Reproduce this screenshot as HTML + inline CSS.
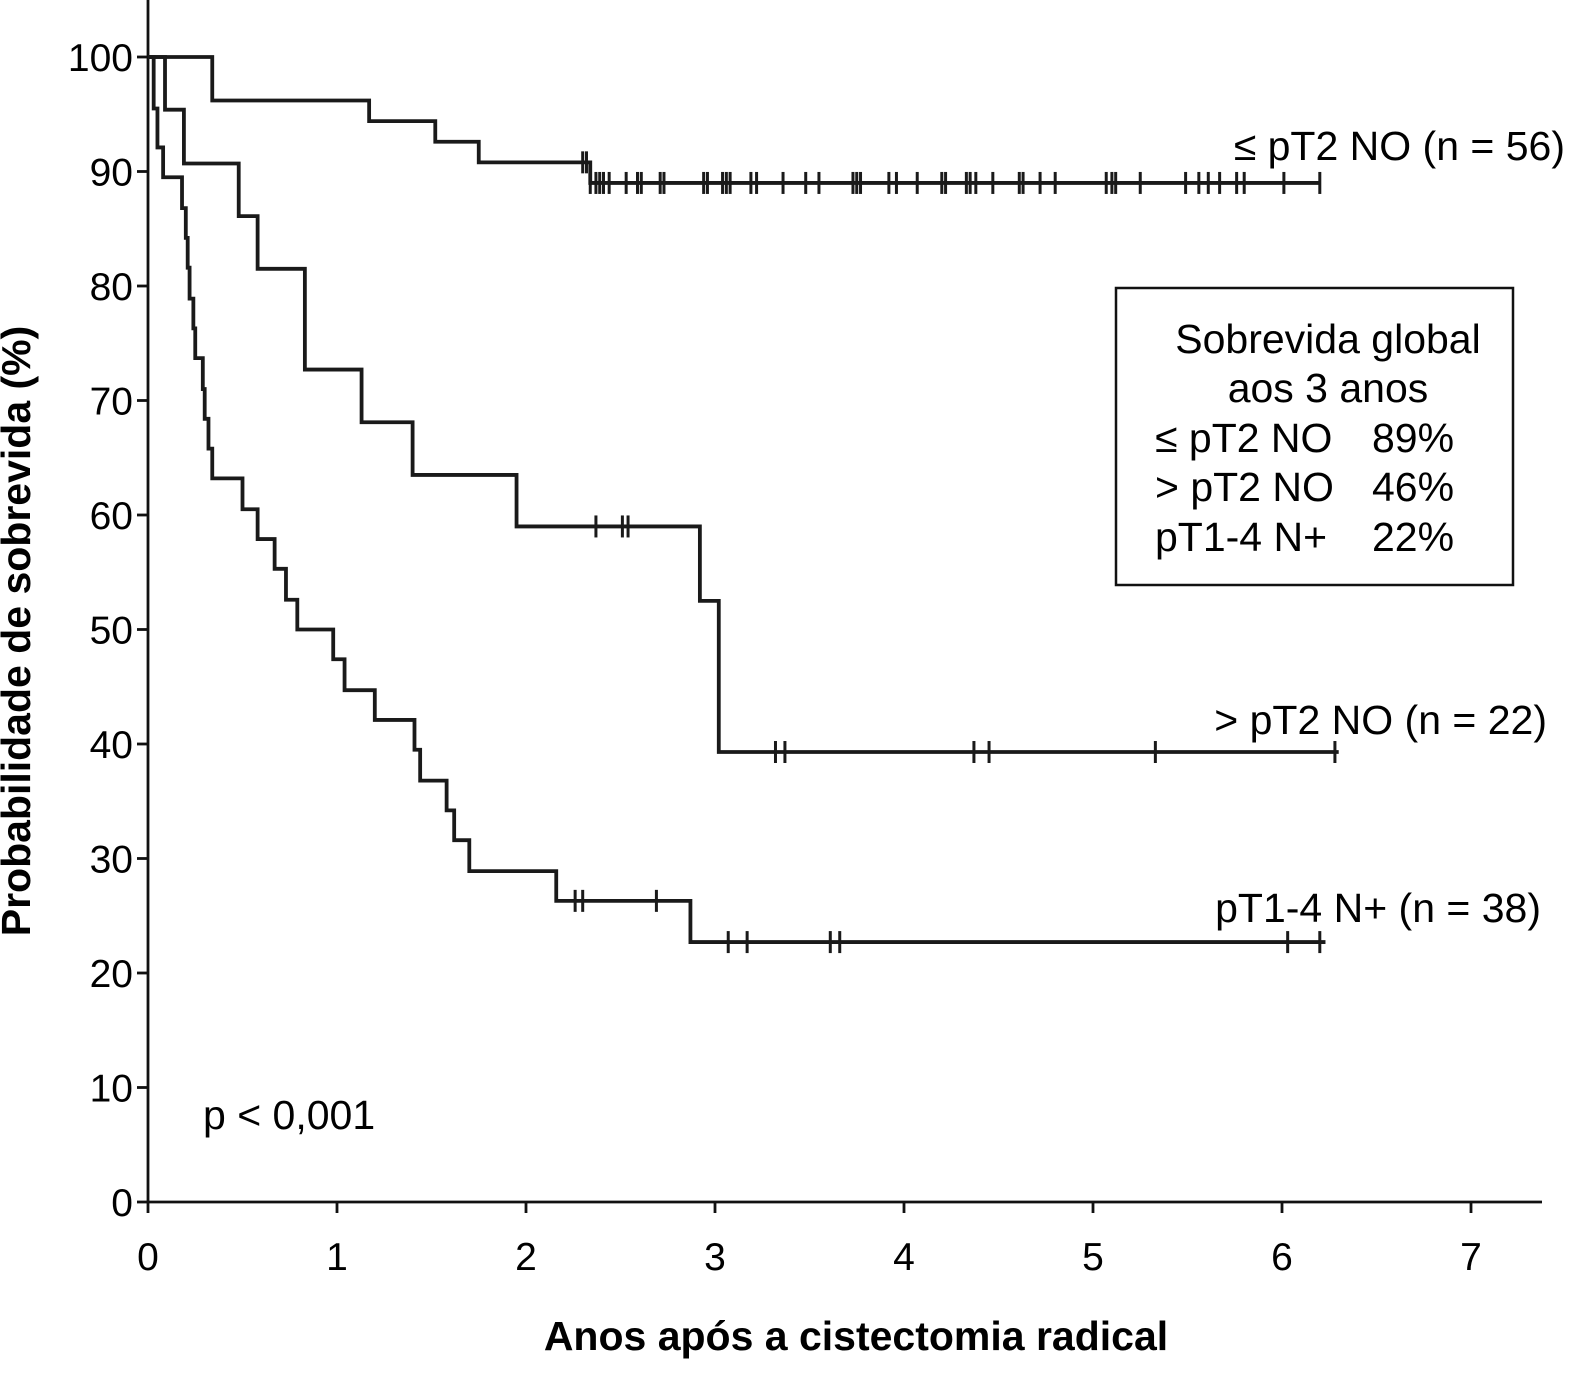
<!DOCTYPE html>
<html><head><meta charset="utf-8"><style>
html,body{margin:0;padding:0;background:#fff;}
svg{display:block;font-family:"Liberation Sans",Arial,sans-serif;}
</style></head><body>
<svg id="chart" width="1588" height="1374" viewBox="0 0 1588 1374">
<g id="axes"></g>
<g id="series"></g>
<text x="30" y="631" transform="rotate(-90 30 631)" text-anchor="middle" font-size="41" font-weight="bold">Probabilidade de sobrevida (%)</text>
<text x="856" y="1350" text-anchor="middle" font-size="41" font-weight="bold">Anos após a cistectomia radical</text>
<text x="1565" y="160" text-anchor="end" font-size="41">≤ pT2 NO (n = 56)</text>
<text x="1547" y="734" text-anchor="end" font-size="41">&gt; pT2 NO (n = 22)</text>
<text x="1541" y="922" text-anchor="end" font-size="41">pT1-4 N+ (n = 38)</text>
<text x="203" y="1129" font-size="41">p &lt; 0,001</text>
<g>
<rect x="1116" y="288" width="397" height="297" fill="none" stroke="#111" stroke-width="2.5"/>
<text x="1328" y="353" text-anchor="middle" font-size="41">Sobrevida global</text>
<text x="1328" y="402" text-anchor="middle" font-size="41">aos 3 anos</text>
<text x="1155" y="452" font-size="41">≤ pT2 NO</text>
<text x="1372" y="452" font-size="41">89%</text>
<text x="1155" y="501" font-size="41">&gt; pT2 NO</text>
<text x="1372" y="501" font-size="41">46%</text>
<text x="1155" y="551" font-size="41">pT1-4 N+</text>
<text x="1372" y="551" font-size="41">22%</text>
</g>
</svg>
<script>
const xTicks=[0,1,2,3,4,5,6,7];
const yTicks=[0,10,20,30,40,50,60,70,80,90,100];
// series 1: <= pT2 N0
const s1Times=[0,0.34,1.17,1.52,1.75,2.34,6.2];
const s1Vals=[100,96.2,94.4,92.6,90.8,89,89];
const s1Cens=[2.30,2.32,2.34,2.37,2.39,2.41,2.44,2.53,2.59,2.61,2.71,2.73,2.94,2.96,3.04,3.06,3.08,3.19,3.22,3.36,3.48,3.55,3.73,3.75,3.77,3.92,3.96,4.07,4.20,4.22,4.33,4.35,4.38,4.47,4.61,4.63,4.72,4.80,5.07,5.10,5.12,5.25,5.49,5.56,5.61,5.67,5.76,5.80,6.01,6.20];
// series 2: > pT2 N0
const s2Times=[0,0.09,0.19,0.48,0.58,0.83,1.13,1.40,1.95,2.92,3.02,6.3];
const s2Vals=[100,95.4,90.7,86.1,81.5,72.7,68.1,63.5,59,52.5,39.3,39.3];
const s2Cens=[2.37,2.51,2.54,3.32,3.37,4.37,4.45,5.33,6.28];
// series 3: pT1-4 N+
const s3Times=[0,0.03,0.05,0.08,0.18,0.2,0.21,0.22,0.24,0.25,0.29,0.3,0.32,0.34,0.5,0.58,0.67,0.73,0.79,0.98,1.04,1.2,1.41,1.44,1.58,1.62,1.7,2.16,2.87,6.23];
const s3Vals=[100,95.5,92.1,89.5,86.8,84.2,81.6,78.9,76.3,73.7,71,68.4,65.8,63.2,60.5,57.9,55.3,52.6,50,47.4,44.7,42.1,39.5,36.8,34.2,31.6,28.9,26.3,22.7,22.7];
const s3Cens=[2.26,2.30,2.69,3.07,3.17,3.61,3.66,6.03,6.20];

const X0=148,XS=189,Y0=1202,YS=11.45;
const xs=t=>X0+t*XS, ys=v=>Y0-v*YS;
const NS='http://www.w3.org/2000/svg';
function mk(tag,attrs,parent){const e=document.createElementNS(NS,tag);for(const k in attrs)e.setAttribute(k,attrs[k]);parent.appendChild(e);return e;}
const axes=document.getElementById('axes');
const yl=mk('line',{x1:X0,y1:0,x2:X0,y2:Y0+1,stroke:'#111','stroke-width':2.8},axes);


const xl=mk('line',{x1:X0-1,y1:Y0,x2:1542,y2:Y0,stroke:'#111','stroke-width':2.8},axes);


yTicks.forEach(v=>{
  mk('line',{x1:X0-11,y1:ys(v),x2:X0,y2:ys(v),stroke:'#111','stroke-width':2.8},axes);
  const t=mk('text',{x:X0-15,y:ys(v)+14,'text-anchor':'end','font-size':39},axes);
  t.textContent=v;
  
  
});
xTicks.forEach(v=>{
  mk('line',{x1:xs(v),y1:Y0,x2:xs(v),y2:Y0+11,stroke:'#111','stroke-width':2.8},axes);
  const t=mk('text',{x:xs(v),y:Y0+68,'text-anchor':'middle','font-size':39},axes);
  t.textContent=v;
  
  
});
const sg=document.getElementById('series');
function valAt(times,vals,t){let v=vals[0];for(let i=0;i<times.length;i++){if(times[i]<=t)v=vals[i];}return v;}
function draw(times,vals,cens,name){
  let d='M'+xs(times[0])+','+ys(vals[0]);
  for(let i=1;i<times.length;i++){d+=' H'+xs(times[i])+' V'+ys(vals[i]);}
  const p=mk('path',{d:d,fill:'none',stroke:'#1a1a1a','stroke-width':3.8},sg);
  
  
  cens.forEach(c=>{
    const y=ys(valAt(times,vals,c));
    const m=mk('line',{x1:xs(c),y1:y-11,x2:xs(c),y2:y+11,stroke:'#1a1a1a','stroke-width':3},sg);
    
    
  });
}
draw(s1Times,s1Vals,s1Cens,'pt2-n0');
draw(s2Times,s2Vals,s2Cens,'gt-pt2-n0');
draw(s3Times,s3Vals,s3Cens,'n-plus');
</script>
</body></html>
